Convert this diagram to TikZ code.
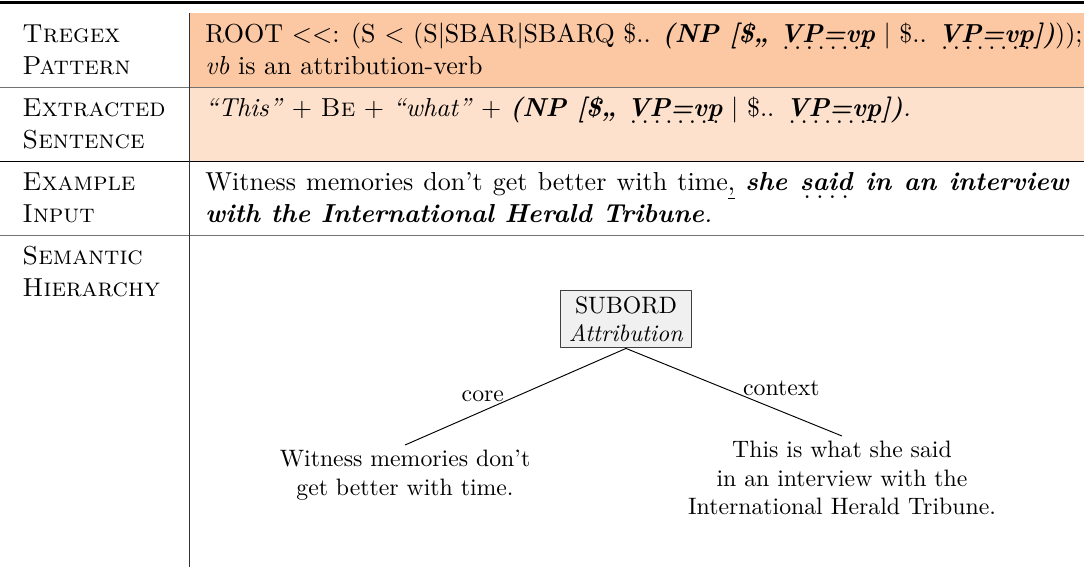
\documentclass[tikz,border=0pt]{standalone}
\usepackage{tikz}
\definecolor{patfill}{RGB}{252,200,164}
\definecolor{extfill}{RGB}{253,225,205}
\newcommand{\bfit}[1]{\textbf{\textit{#1}}}
\newsavebox{\dotbox}
\newcommand{\dotul}[1]{\sbox{\dotbox}{#1}\rlap{\lower3.3pt\hbox to\wd\dotbox{\xleaders\hbox to 4.6pt{\hss\normalfont.\hss}\hfil}}\usebox{\dotbox}}
\tikzset{hd/.style={anchor=base west, inner sep=0pt, font=\fontsize{10.95}{13.6}\selectfont}}
\tikzset{tx/.style={anchor=base west, inner sep=0pt, font=\fontsize{10.95}{13.6}\selectfont}}
\tikzset{rel/.style={draw=black!75, fill=black!6, align=center, inner xsep=3.3pt, inner ysep=2.6pt}}
\tikzset{leaf/.style={align=center, anchor=north, inner sep=2pt}}
\tikzset{lbl/.style={inner sep=0pt}}

\begin{document}
\begin{tikzpicture}[x=0.421pt, y=-0.421pt, line join=round]
  \useasboundingbox (0,0) rectangle (1084,570);
  % shaded rows
  \fill[patfill] (189.5,13) rectangle (1084,87);
  \fill[extfill] (189.5,87) rectangle (1084,161);
  % rules
  \draw[line width=1pt] (0,2.5) -- (1084,2.5);
  \draw[black!55] (0,87) -- (1084,87);
  \draw (0,161) -- (1084,161);
  \draw[black!55] (0,235) -- (1084,235);
  \draw[black!80] (189.5,13) -- (189.5,567);
  % left column
  \node[hd] (tregex) at (22,42) {\textsc{Tregex}};
  \node[hd] (pattern) at (22,74.3) {\textsc{Pattern}};
  \node[hd] (extracted) at (22,116) {\textsc{Extracted}};
  \node[hd] (sentence) at (22,148.3) {\textsc{Sentence}};
  \node[hd] (example) at (22,190) {\textsc{Example}};
  \node[hd] (input) at (22,222.3) {\textsc{Input}};
  \node[hd] (semantic) at (22,264) {\textsc{Semantic}};
  \node[hd] (hierarchy) at (22,296.3) {\textsc{Hierarchy}};
  % right column
  \node[tx] (rule) at (205,42) {ROOT <\kern0pt<: (S < (S$|$SBAR$|$SBARQ \$.. \bfit{(NP [\$,, \dotul{VP=vp}} $|$ \$.. \bfit{\dotul{VP=vp}])}));};
  \node[tx] (verb) at (205,74.3) {\textit{vb} is an attribution-verb};
  \node[tx] (extr) at (205,116) {\textit{\textquotedblleft This\textquotedblright} $+$ \textsc{Be} $+$ \textit{\textquotedblleft what\textquotedblright} $+$ \bfit{(NP [\$,, \dotul{VP=vp}} $|$ \$.. \bfit{\dotul{VP=vp}])}\textit{.}};
  \node[anchor=north west, inner sep=0pt, text width=363.5pt, align=justify, font=\fontsize{10.95}{13.6}\selectfont] (sample) at (205,171.9)
    {Witness memories don't get better with time\underline{,} \bfit{she \dotul{said} in an interview with the International Herald Tribune}\textit{.}};
  % tree
  \node[rel] (subord) at (626,319) {SUBORD\\\textit{Attribution}};
  \node[leaf] (nucleus) at (405,445) {Witness memories don't\\get better with time.};
  \node[leaf] (satellite) at (842,436) {This is what she said\\in an interview with the\\International Herald Tribune.};
  \draw (subord.south) -- (nucleus.north) node[lbl, pos=.55, anchor=base east] {core};
  \draw (subord.south) -- (satellite.north) node[lbl, pos=.54, anchor=base west] {context};
\end{tikzpicture}
\end{document}
